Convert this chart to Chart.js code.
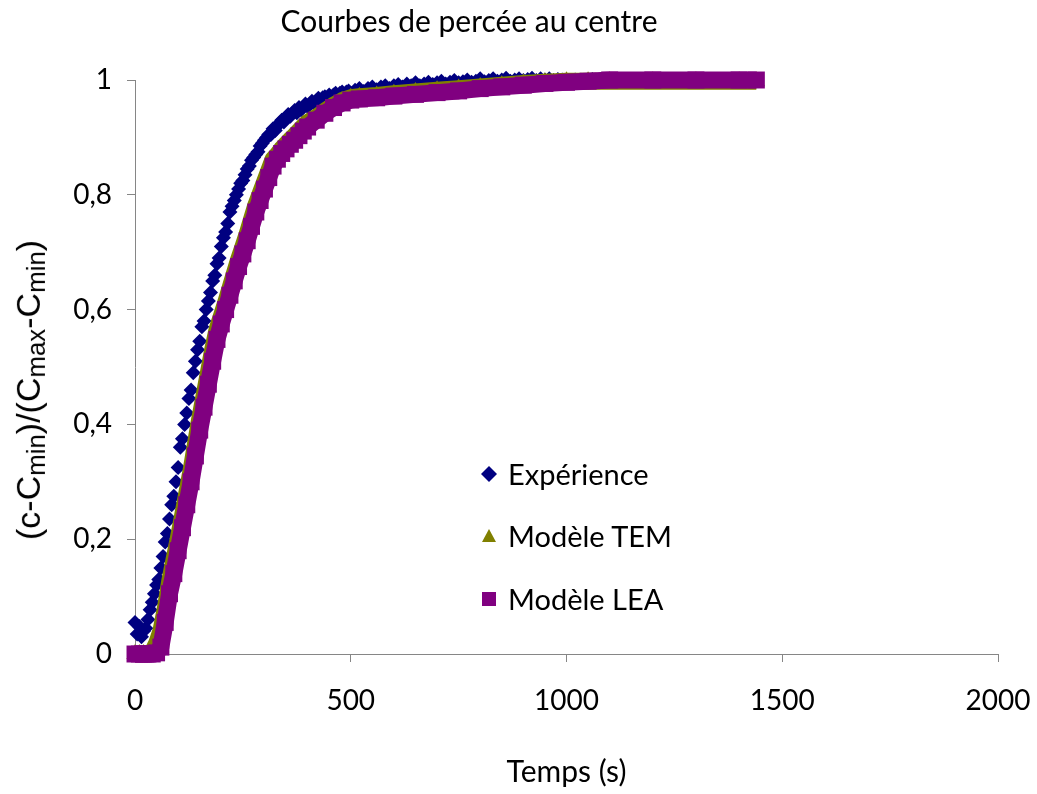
<!DOCTYPE html>
<html>
<head>
<meta charset="utf-8">
<script src="https://cdn.jsdelivr.net/npm/chart.js@4.4.1/dist/chart.umd.min.js"></script>
<style>
  body { margin: 0; background: #fff; font-family: Lato, "Open Sans", sans-serif; color: #000; }
  #wrap { position: relative; width: 1037px; height: 794px; }
  #title { position: absolute; left: 0; top: 2px; width: 938px; text-align: center; font-size: 30px; }
  #ytitle { position: absolute; left: 30px; top: 390px; transform: translate(-50%, -50%) rotate(-90deg);
            white-space: nowrap; font-size: 34px; font-family: "Liberation Sans", Arial, sans-serif; }
  #ytitle sub { font-size: 0.76em; vertical-align: -0.2em; }
  #legend { position: absolute; left: 480px; top: 454px; }
  .item { position: absolute; left: 0; height: 40px; white-space: nowrap; font-size: 29px; line-height: 40px; }
  .item svg { position: absolute; left: 0; top: 11px; }
  .item span { position: absolute; left: 28px; top: 0; }
</style>
</head>
<body>
<div id="wrap">
  <canvas id="chart"></canvas>
  <div id="title">Courbes de percée au centre</div>
  <div id="ytitle">(c-C<sub>min</sub>)/(C<sub>max</sub>-C<sub>min</sub>)</div>
  <div id="legend"></div>
</div>
<script>
const seriesNames = ["Expérience", "Modèle TEM", "Modèle LEA"];
const seriesColors = ["#000080", "#808000", "#800080"];
const xTickLabels = ["0", "500", "1000", "1500", "2000"];
const yTickLabels = ["0", "0,2", "0,4", "0,6", "0,8", "1"];

// Expérience (s, C réduite)
const expTime = [0,5,10,15,20,25,30,35,40,45,50,55,60,65,70,75,80,85,90,95,
  100,105,110,115,120,125,130,135,140,145,150,155,160,165,170,175,180,185,190,195,
  200,205,210,215,220,225,230,235,240,245,250,255,260,265,270,275,280,285,290,295,
  300,305,310,315,320,325,330,335,340,345,350,355,360,365,370,375,380,385,390,395,
  400,405,410,415,420,425,430,435,440,445,450,455,460,465,470,475,480,485,490,495,500,
  510,520,530,540,550,560,570,580,590,600,610,620,630,640,650,660,670,680,690,700,
  710,720,730,740,750,760,770,780,790,800,810,820,830,840,850,860,870,880,890,900,
  910,920,930,940,950,960,970,980,990,1000,
  1020,1040,1060,1080,1100,1120,1140,1160,1180,1200,1220,1240,1260,1280,1300,
  1320,1340,1360,1380,1400,1420,1440];
const expValue = [0.055,0.035,0.048,0.03,0.04,0.045,0.06,0.077,0.09,0.105,0.12,0.13,0.15,0.17,0.195,0.21,0.235,0.26,0.275,0.3,
  0.325,0.36,0.375,0.4,0.42,0.445,0.46,0.49,0.51,0.53,0.545,0.57,0.58,0.6,0.615,0.63,0.65,0.66,0.68,0.69,
  0.71,0.725,0.735,0.75,0.77,0.78,0.79,0.8,0.81,0.82,0.825,0.835,0.845,0.85,0.86,0.865,0.87,0.875,0.885,0.89,
  0.895,0.9,0.905,0.905,0.915,0.912,0.92,0.925,0.93,0.927,0.935,0.94,0.937,0.942,0.947,0.943,0.952,0.948,0.953,0.958,
  0.954,0.958,0.963,0.959,0.964,0.968,0.964,0.969,0.971,0.967,0.974,0.969,0.974,0.977,0.971,0.977,0.979,0.974,0.979,0.981,0.977,
  0.982,0.985,0.98,0.985,0.988,0.983,0.988,0.99,0.985,0.99,0.992,0.988,0.993,0.99,0.995,0.99,0.993,0.996,0.992,0.995,
  0.998,0.993,0.996,0.999,0.995,0.997,1,0.996,0.998,1.002,0.997,0.999,1.002,0.998,1,1.003,0.998,1,1.002,0.999,
  1.001,1.003,0.999,1.002,1,1.002,0.999,1.001,1,1,
  1,0.999,1.001,1,1,0.999,1.001,1,1,1,0.999,1,1.001,1,1,
  0.999,1,1,1.001,1,1,1];

// Modèles (s, C réduite)
const modelTime = [0,10,20,30,40,50,60,70,80,90,100,110,120,130,140,150,160,170,180,190,
  200,210,220,230,240,250,260,270,280,290,300,310,320,330,340,350,360,370,380,390,400,
  420,440,460,480,500,520,560,600,650,700,750,800,850,900,950,1000,1050,1100,1200,1300,1400,1440];
const temValue = [0,0,0,0,0.003,0.018,0.04,0.078,0.125,0.163,0.2,0.24,0.28,0.32,0.365,0.41,0.45,0.49,0.53,0.565,
  0.588,0.612,0.637,0.662,0.687,0.709,0.732,0.757,0.782,0.802,0.822,0.842,0.862,0.87,0.88,0.888,0.896,0.903,0.911,0.919,0.926,
  0.935,0.946,0.956,0.964,0.969,0.971,0.973,0.976,0.979,0.982,0.985,0.988,0.991,0.994,0.996,0.998,0.998,0.998,0.998,0.998,0.998,0.998];
const leaValue = [0,0,0,0,0,0.002,0.012,0.055,0.105,0.14,0.18,0.22,0.26,0.3,0.345,0.39,0.43,0.47,0.51,0.548,
  0.575,0.6,0.625,0.65,0.675,0.697,0.72,0.745,0.77,0.79,0.81,0.83,0.85,0.862,0.872,0.88,0.888,0.895,0.903,0.911,0.918,
  0.93,0.942,0.952,0.96,0.965,0.967,0.969,0.972,0.975,0.978,0.981,0.985,0.988,0.991,0.994,0.996,0.998,1,1,1,1,1];

const pts = (xs, ys) => xs.map((x, i) => ({ x: x, y: ys[i] }));

Chart.defaults.font.family = "Lato";
Chart.defaults.font.size = 28;
Chart.defaults.color = "#000";

const axisGrey = "#868686";

new Chart(document.getElementById("chart"), {
  type: "scatter",
  data: {
    datasets: [
      {
        label: seriesNames[0],
        data: pts(expTime, expValue),
        showLine: false,
        pointStyle: "rectRot",
        pointRadius: 7.5,
        pointBorderWidth: 0,
        backgroundColor: seriesColors[0],
        order: 3,
        clip: false
      },
      {
        label: seriesNames[1],
        data: pts(modelTime, temValue),
        showLine: true,
        borderColor: seriesColors[1],
        borderWidth: 17,
        borderJoinStyle: "round",
        pointStyle: "triangle",
        pointRadius: 10,
        pointBorderWidth: 0,
        backgroundColor: seriesColors[1],
        order: 2,
        clip: false
      },
      {
        label: seriesNames[2],
        data: pts(modelTime, leaValue),
        showLine: true,
        borderColor: seriesColors[2],
        borderWidth: 17,
        borderJoinStyle: "round",
        pointStyle: "rect",
        pointRadius: 12,
        pointBorderWidth: 0,
        backgroundColor: seriesColors[2],
        order: 1,
        clip: false
      }
    ]
  },
  options: {
    responsive: true,
    maintainAspectRatio: false,
    animation: false,
    events: [],
    layout: { padding: { top: 80, right: 39, left: 0, bottom: 0 } },
    plugins: { legend: { display: false }, tooltip: { enabled: false } },
    scales: {
      x: {
        type: "linear",
        min: 0,
        max: 2000,
        ticks: { stepSize: 500, callback: (v, i) => xTickLabels[i], padding: 22, maxRotation: 0 },
        grid: { drawOnChartArea: false, drawTicks: true, tickLength: 8, color: axisGrey },
        border: { color: axisGrey },
        title: { display: true, text: "Temps (s)", font: { size: 30 }, padding: { top: 0, bottom: 4 } },
        afterFit: s => { s.height = 140; s.paddingLeft = 0; s.paddingRight = 0; }
      },
      y: {
        min: 0,
        max: 1,
        ticks: { stepSize: 0.2, callback: (v, i) => yTickLabels[i], padding: 15 },
        grid: { drawOnChartArea: false, drawTicks: true, tickLength: 8, color: axisGrey },
        border: { color: axisGrey },
        afterFit: s => { s.width = 135; s.paddingTop = 0; s.paddingBottom = 0; }
      }
    }
  }
});

// legend inside the plot area
const markers = [
  '<svg width="18" height="18"><polygon points="9,1 17,9 9,17 1,9" fill="#000080"/></svg>',
  '<svg width="18" height="18"><polygon points="9,2 16,15 2,15" fill="#808000"/></svg>',
  '<svg width="18" height="18"><rect x="2" y="2" width="14" height="14" fill="#800080"/></svg>'
];
const legend = document.getElementById("legend");
const rowTops = [0, 62, 125];
seriesNames.forEach((name, i) => {
  const d = document.createElement("div");
  d.className = "item";
  d.style.top = rowTops[i] + "px";
  d.innerHTML = markers[i] + "<span>" + name + "</span>";
  legend.appendChild(d);
});
</script>
</body>
</html>
